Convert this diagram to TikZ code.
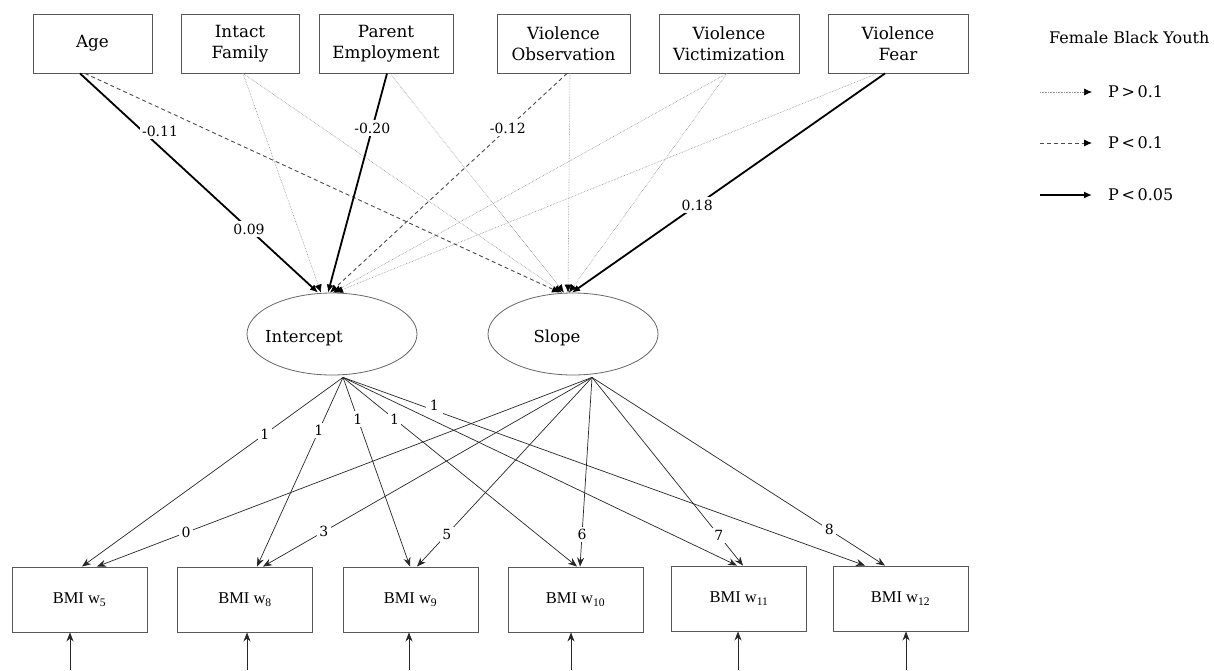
\documentclass[tikz,border=0pt]{standalone}
\usepackage{fontspec}
\setmainfont{DejaVu Serif}
\newfontfamily\bmifont{Liberation Serif}
\usetikzlibrary{shapes.geometric,arrows.meta,calc}
\begin{document}
\begin{tikzpicture}[x=1pt,y=-1pt,
 box/.style={draw=black!65, line width=0.9pt, minimum height=59pt, inner sep=0pt, align=center, font=\fontsize{16.8}{21}\selectfont},
 bmi/.style={draw=black!65, line width=0.9pt, minimum width=135pt, minimum height=65pt, inner sep=0pt, font=\bmifont\fontsize{16.5}{18}\selectfont},
 lat/.style={draw=black!60, line width=0.8pt, ellipse, minimum width=170pt, minimum height=82pt, inner sep=0pt},
 ttext/.style={font=\fontsize{16.5}{18}\selectfont, inner sep=0pt},
 ns/.style={densely dotted, line width=0.6pt, black!45, -{Latex[length=8pt,width=7pt,color=black]}},
 ms/.style={dash pattern=on 4pt off 3pt, line width=0.9pt, black!70, -{Latex[length=8pt,width=7pt,color=black]}},
 ss/.style={line width=1.8pt, black, -{Latex[length=8pt,width=7pt]}},
 ld/.style={line width=0.7pt, black!85, -{Stealth[length=9pt,width=7pt]}},
 lbl/.style={fill=white, inner sep=2.5pt, font=\fontsize{14}{16}\selectfont},
 legt/.style={anchor=west, inner sep=0pt, font=\fontsize{16}{18}\selectfont},
]
\useasboundingbox (0,0) rectangle (1214,670);

% predictors
\node[box, minimum width=119pt] (age)  at (92.5,43.5) {Age};
\node[box, minimum width=118pt] (fam)  at (240,43.5)  {Intact\\Family};
\node[box, minimum width=134pt] (emp)  at (386,43.5)  {Parent\\Employment};
\node[box, minimum width=133pt] (obs)  at (563.5,43.5){Violence\\Observation};
\node[box, minimum width=140pt] (vic)  at (729,43.5)  {Violence\\Victimization};
\node[box, minimum width=140pt] (fear) at (898,43.5)  {Violence\\Fear};

% latent factors
\node[lat] (icpt) at (332,334) {};
\node[lat] (slp)  at (573,334) {};
\node[ttext] (icptt) at (304,338) {Intercept};
\node[ttext] (slpt)  at (557,338) {Slope};

% indicators
\node[bmi] (w5)  at (79.5,599.5)  {BMI w\textsubscript{5}};
\node[bmi] (w8)  at (245,599.5)   {BMI w\textsubscript{8}};
\node[bmi] (w9)  at (410.5,599.5) {BMI w\textsubscript{9}};
\node[bmi] (w10) at (575.5,599.5) {BMI w\textsubscript{10}};
\node[bmi] (w11) at (739,598.5)   {BMI w\textsubscript{11}};
\node[bmi] (w12) at (900.5,598.5) {BMI w\textsubscript{12}};

% paths from predictors
\draw[ns] ([xshift=3pt]fam.south) -- ([xshift=-11pt]icpt.north);
\draw[ns] ([xshift=3pt]fam.south) -- ([xshift=-11pt]slp.north);
\draw[ns] ([xshift=4pt]emp.south) -- ([xshift=-9pt]slp.north);
\draw[ns] ([xshift=6.5pt]obs.south) -- ([xshift=-5pt]slp.north);
\draw[ns] ([xshift=-2pt]vic.south) -- ([xshift=1pt]icpt.north);
\draw[ns] ([xshift=-2pt]vic.south) -- ([xshift=-4pt]slp.north);
\draw[ns] ([xshift=-21pt]fear.south) -- ([xshift=3pt]icpt.north);
\draw[ms] ([xshift=-7.5pt]age.south) -- ([xshift=-13pt]slp.north);
\draw[ms] ([xshift=3.5pt]obs.south) -- ([xshift=-2pt]icpt.north);
\draw[ss] ([xshift=-12.5pt]age.south) -- ([xshift=-14pt]icpt.north);
\draw[ss] ([xshift=1pt]emp.south) -- ([xshift=-4pt]icpt.north);
\draw[ss] ([xshift=-13pt]fear.south) -- ([xshift=-1pt]slp.north);

% coefficient labels
\path ([xshift=-12.5pt]age.south) -- ([xshift=-14pt]icpt.north) node[lbl,pos=0.71] (c1) {0.09};
\node[lbl] (c2) at (160,131) {-0.11};
\path ([xshift=1pt]emp.south) -- ([xshift=-4pt]icpt.north) node[lbl,pos=0.25] (c3) {-0.20};
\path ([xshift=3.5pt]obs.south) -- ([xshift=-2pt]icpt.north) node[lbl,pos=0.25] (c4) {-0.12};
\path ([xshift=-13pt]fear.south) -- ([xshift=-1pt]slp.north) node[lbl,pos=0.6] (c5) {0.18};

% loadings
\coordinate (icO) at ([xshift=11pt,yshift=-2pt]icpt.south);
\coordinate (slO) at ([xshift=19pt,yshift=-2pt]slp.south);
\draw[ld] (icO) -- ([xshift=2.5pt]w5.north);
\draw[ld] (icO) -- ([xshift=12pt]w8.north);
\draw[ld] (icO) -- ([xshift=-0.5pt]w9.north);
\draw[ld] (icO) -- ([xshift=1.5pt]w10.north);
\draw[ld] (icO) -- ([xshift=-2pt]w11.north);
\draw[ld] (icO) -- ([xshift=-35.5pt]w12.north);
\draw[ld] (slO) -- ([xshift=17.5pt]w5.north);
\draw[ld] (slO) -- ([xshift=18pt]w8.north);
\draw[ld] (slO) -- ([xshift=6.5pt]w9.north);
\draw[ld] (slO) -- ([xshift=4.5pt]w10.north);
\draw[ld] (slO) -- ([xshift=4pt]w11.north);
\draw[ld] (slO) -- ([xshift=-15.5pt]w12.north);

% loading labels
\path (icO) -- ([xshift=2.5pt]w5.north) node[lbl,pos=0.3] {1};
\path (icO) -- ([xshift=12pt]w8.north) node[lbl,pos=0.28] {1};
\path (icO) -- ([xshift=-0.5pt]w9.north) node[lbl,pos=0.22] {1};
\path (icO) -- ([xshift=1.5pt]w10.north) node[lbl,pos=0.22] {1};
\path (icO) -- ([xshift=-35.5pt]w12.north) node[lbl,pos=0.175,yshift=5pt,inner sep=4pt] {1};
\path (slO) -- ([xshift=17.5pt]w5.north) node[lbl,pos=0.82] {0};
\path (slO) -- ([xshift=18pt]w8.north) node[lbl,pos=0.815] {3};
\path (slO) -- ([xshift=6.5pt]w9.north) node[lbl,pos=0.83] {5};
\path (slO) -- ([xshift=4.5pt]w10.north) node[lbl,pos=0.83] {6};
\path (slO) -- ([xshift=4pt]w11.north) node[lbl,pos=0.84] {7};
\path (slO) -- ([xshift=-15.5pt]w12.north) node[lbl,pos=0.81] {8};

% residual arrows
\coordinate (e5)  at (70,670);
\coordinate (e8)  at (247,670);
\coordinate (e9)  at (409,670);
\coordinate (e10) at (571,670);
\coordinate (e11) at (738,670);
\coordinate (e12) at (906,670);
\draw[ld] (e5)  -- (e5 |- w5.south);
\draw[ld] (e8)  -- (e8 |- w8.south);
\draw[ld] (e9)  -- (e9 |- w9.south);
\draw[ld] (e10) -- (e10 |- w10.south);
\draw[ld] (e11) -- (e11 |- w11.south);
\draw[ld] (e12) -- (e12 |- w12.south);

% legend
\node[legt] (ttl) at (1049,38) {Female Black Youth};
\coordinate (la1) at (1040,92);  \coordinate (lb1) at (1092,92);
\coordinate (la2) at (1040,143); \coordinate (lb2) at (1092,143);
\coordinate (la3) at (1040,195); \coordinate (lb3) at (1092,195);
\draw[ns] (la1) -- (lb1);
\draw[ms] (la2) -- (lb2);
\draw[ss] (la3) -- (lb3);
\node[legt] (lt1) at (1108,92)  {P\,>\,0.1};
\node[legt] (lt2) at (1108,143) {P\,<\,0.1};
\node[legt] (lt3) at (1108,195) {P\,<\,0.05};
\end{tikzpicture}
\end{document}
